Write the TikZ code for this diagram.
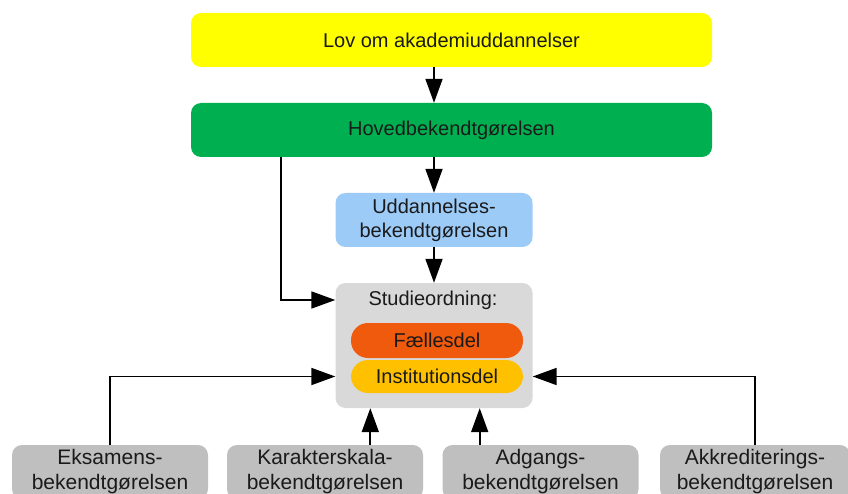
\documentclass[tikz,border=0pt]{standalone}
\usepackage{fontspec}
\setmainfont{Liberation Sans}
\usetikzlibrary{arrows.meta}
\definecolor{lovyellow}{HTML}{FFFF00}
\definecolor{hovedgreen}{HTML}{00B050}
\definecolor{uddblue}{HTML}{9DCBF8}
\definecolor{studiegrey}{HTML}{D9D9D9}
\definecolor{faellesorange}{HTML}{F05A0C}
\definecolor{instgold}{HTML}{FFC000}
\definecolor{bekgrey}{HTML}{BFBFBF}
\definecolor{txt}{HTML}{1A1A1A}
\tikzset{
    box/.style={rectangle, rounded corners=10pt, inner sep=0pt, align=center,
        text=txt, font=\fontsize{20}{24}\selectfont},
    pill/.style={box, rounded corners=17pt, minimum width=172pt},
    bekbox/.style={box, fill=bekgrey, minimum width=196pt, minimum height=54pt,
        font=\fontsize{21}{25}\selectfont},
    arr/.style={line width=1.8pt, -{Triangle[length=24pt,width=17pt]}}
}
\begin{document}
\begin{tikzpicture}[x=1pt, y=-1pt]
    \useasboundingbox (0,0) rectangle (848,494);
    \clip (0,0) rectangle (848,494);
    \node[box, fill=lovyellow, minimum width=521pt, minimum height=54pt] (lov) at (451.5,40) {Lov om akademiuddannelser};
    \node[box, fill=hovedgreen, minimum width=521pt, minimum height=54pt] (hoved) at (451.5,130) {Hovedbekendtgørelsen};
    \node[box, fill=uddblue, minimum width=197pt, minimum height=54pt] (udd) at (434,220) {Uddannelses-\\bekendtgørelsen};
    \node[box, fill=studiegrey, minimum width=197pt, minimum height=125pt] (studie) at (434,345.5) {};
    \node[box] (stitle) at (433,300) {Studieordning:};
    \node[pill, fill=faellesorange, minimum height=35pt] (faelles) at (437,340.5) {Fællesdel};
    \node[pill, fill=instgold, minimum height=33pt] (inst) at (437,376.5) {Institutionsdel};
    \node[bekbox] (eks) at (110,472) {Eksamens-\\bekendtgørelsen};
    \node[bekbox] (kar) at (325,472) {Karakterskala-\\bekendtgørelsen};
    \node[bekbox] (adg) at (540.5,472) {Adgangs-\\bekendtgørelsen};
    \node[bekbox, minimum width=190pt] (akk) at (755,472) {Akkrediterings-\\bekendtgørelsen};
    \coordinate (hl) at ([xshift=90pt]hoved.south west);
    \coordinate (kx) at ([xshift=35pt]studie.south west);
    \coordinate (ax) at ([xshift=-53pt]studie.south east);
    \draw[arr] (lov.south -| udd.north) -- (hoved.north -| udd.north);
    \draw[arr] (hoved.south -| udd.north) -- (udd.north);
    \draw[arr] (udd.south) -- (studie.north);
    \draw[arr] (hl) |- (studie.west |- stitle);
    \draw[arr] (eks.north) |- (studie.west |- inst);
    \draw[arr] (akk.north) |- (studie.east |- inst);
    \draw[arr] (kar.north -| kx) -- (kx);
    \draw[arr] (adg.north -| ax) -- (ax);
\end{tikzpicture}
\end{document}
